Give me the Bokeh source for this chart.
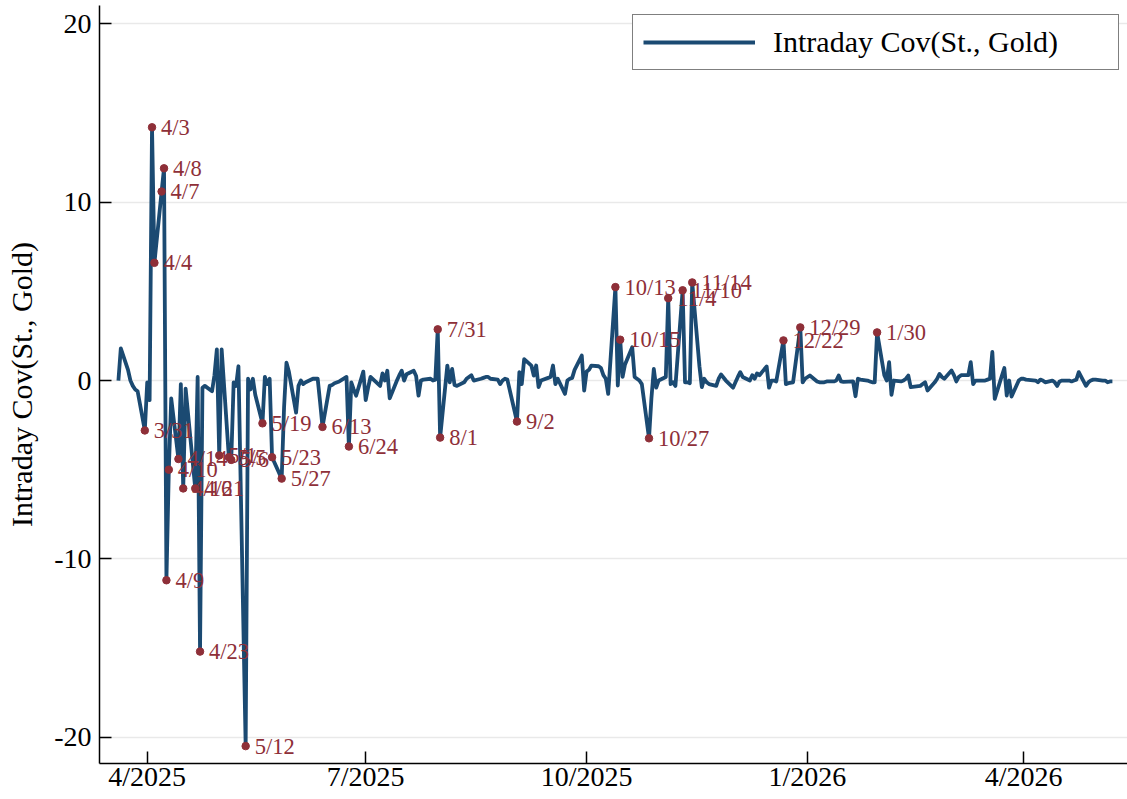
import pandas as pd
from bokeh.plotting import figure
from bokeh.models import FixedTicker, Legend, LegendItem, ColumnDataSource, Range1d
from bokeh.core.properties import value
from bokeh.embed import file_html
from bokeh.resources import INLINE

# ---------------- data ----------------
holidays = ["2025-04-18", "2025-05-26", "2025-06-19", "2025-07-04", "2025-09-01",
            "2025-11-27", "2025-12-25", "2026-01-01", "2026-01-19", "2026-02-16",
            "2026-04-03"]

mar25 = [0.0, 1.8, 0.6, 0.0, -0.3, -0.5, -0.6, -2.8]
apr25 = [-0.1, -1.1, 14.2, 6.6, 10.6, 11.9, -11.2, -5.0, -1.0, -4.4, -0.2, -6.05, -0.45,
         -6.05, 0.2, -15.2, -0.4, -0.3, -0.6, 0.3, 1.75]
may25 = [-4.2, 1.75, -4.3, -4.45, -0.1, -0.3, 0.8, -20.5, 0.1, -0.5, 0.1, -0.8, -2.4, 0.2,
         -0.2, 0.1, -4.3, -5.5, -1.5, 1.0, 0.5]
jun25 = [-1.8, -0.3, 0.0, -0.2, -0.1, 0.1, 0.1, 0.1, -1.2, -2.6, -0.3, -0.25, -0.15, -0.05,
         0.2, -3.7, -0.1, -0.5, -0.85, 0.5]
jul25 = [-1.1, -0.4, 0.2, -0.3, 0.4, 0.0, 0.55, -1.0, 0.0, 0.3, 0.55, 0.0, 0.35, 0.55, 0.25,
         -0.85, 0.0, 0.05, 0.1, 0.0, 0.05, 2.87]
aug25 = [-3.2, 0.84, -0.1, 0.65, -0.25, -0.3, -0.1, 0.1, 0.2, 0.3, 0.0, 0.1, 0.15, 0.2, 0.2,
         0.1, 0.05, -0.2, 0.0, 0.1, 0.05]
sep25 = [-2.3, 0.47, -0.2, 1.2, 0.84, 0.28, 0.84, -0.37, 0.0, 0.15, 0.2, 0.84, -0.2, 0.1,
         -0.75, 0.0, 0.1, 0.15, 0.6, 1.4, -0.56]
oct25 = [0.5, 0.6, 0.84, 0.8, 0.7, 0.3, 0.1, -0.75, 5.24, -0.28, 2.29, 0.2, 0.9, 1.87, 0.2,
         0.1, 0.0, -0.2, -3.24, -1.0, 0.65, -0.4, 0.0]
nov25 = [0.2, 4.62, -0.2, -0.1, -0.3, 5.06, -0.1, -0.1, -0.15, 5.5, 0.8, -0.37, 0.1, -0.1,
         -0.2, -0.3, 0.1, 0.34, 0.0]
dec25 = [-0.4, -0.1, 0.2, 0.47, 0.2, 0.0, 0.3, 0.1, 0.4, 0.3, 0.79, -0.4, 0.0, 0.0, -0.05,
         2.25, -0.2, -0.15, -0.1, 2.98, -0.1, 0.1]
jan26 = [0.28, -0.05, -0.1, -0.1, -0.1, -0.05, -0.05, 0.0, 0.28, -0.05, -0.08, -0.05, -0.88,
         0.1, 0.05, 0.0, -0.05, -0.1, -0.1, 2.7]
feb26 = [0.3, 0.0, 1.03, -0.8, 0.0, -0.05, 0.0, 0.1, 0.28, -0.37, -0.3, -0.2, -0.1, -0.56,
         -0.1, 0.1, 0.37, 0.2, 0.1]
mar26 = [0.56, 0.3, -0.05, 0.2, 0.3, 0.3, 1.03, -0.2, 0.0, 0.0, 0.0, 0.05, 0.1, 1.6, -1.03,
         0.28, 0.7, -0.84, 0.0, -0.9, 0.0, 0.1]
apr26 = [0.1, 0.05, 0.0, -0.1, 0.05, 0.0, -0.1, 0.0, -0.1, -0.3, -0.05, 0.0, 0.0, -0.05, 0.0,
         0.05, 0.47, -0.3, -0.1, 0.0, 0.05]
may26 = [0.05, 0.0, 0.0, -0.1, -0.05, -0.05]

months = [("2025-03-20", "2025-03-31", mar25), ("2025-04-01", "2025-04-30", apr25),
          ("2025-05-01", "2025-05-31", may25), ("2025-06-01", "2025-06-30", jun25),
          ("2025-07-01", "2025-07-31", jul25), ("2025-08-01", "2025-08-31", aug25),
          ("2025-09-01", "2025-09-30", sep25), ("2025-10-01", "2025-10-31", oct25),
          ("2025-11-01", "2025-11-30", nov25), ("2025-12-01", "2025-12-31", dec25),
          ("2026-01-01", "2026-01-31", jan26), ("2026-02-01", "2026-02-28", feb26),
          ("2026-03-01", "2026-03-31", mar26), ("2026-04-01", "2026-04-30", apr26),
          ("2026-05-01", "2026-05-08", may26)]

tick_dates = ["2025-04-01", "2025-07-01", "2025-10-01", "2026-01-01", "2026-04-01"]
tick_labels = ["4/2025", "7/2025", "10/2025", "1/2026", "4/2026"]
y_ticks = [-20, -10, 0, 10, 20]
y_tick_labels = ["-20", "-10", "0", "10", "20"]
label_threshold = 2.0
series_name = "Intraday Cov(St., Gold)"

dates, vals = [], []
for start, end, v in months:
    d = pd.bdate_range(start, end, freq="C", holidays=holidays)
    assert len(d) == len(v), (start, len(d), len(v))
    dates.extend(list(d))
    vals.extend(v)

src = ColumnDataSource(dict(x=dates, y=vals))
lab_x = [d for d, v in zip(dates, vals) if abs(v) >= label_threshold]
lab_y = [v for v in vals if abs(v) >= label_threshold]
lab_t = [f"{d.month}/{d.day}" for d in lab_x]
lsrc = ColumnDataSource(dict(x=lab_x, y=lab_y, t=lab_t))

# ---------------- figure ----------------
BLUE = "#1b4a72"
RED = "#8e2f38"
FONT = "Liberation Serif"

p = figure(width=1127, height=799, x_axis_type="datetime", output_backend="svg",
           toolbar_location=None, min_border_left=99, min_border_right=0,
           min_border_top=5, min_border_bottom=36,
           x_range=Range1d(pd.Timestamp("2025-03-12 03:00"), pd.Timestamp("2026-05-14 07:00")),
           y_range=Range1d(-21.475, 21.03))
p.outline_line_color = None
p.background_fill_color = "white"
p.border_fill_color = "white"

ln = p.line("x", "y", source=src, line_color=BLUE, line_width=3.8, line_join="round")
p.scatter("x", "y", source=lsrc, size=7.5, fill_color=RED, line_color=RED)
p.text("x", "y", text="t", source=lsrc, x_offset=9, text_baseline="middle",
       text_align="left", text_color=RED, text_font=value(FONT), text_font_size="22.5px")

# axes
xt = [int(pd.Timestamp(t).value // 10**6) for t in tick_dates]
p.xaxis.ticker = FixedTicker(ticks=xt)
p.xaxis.major_label_overrides = {k: l for k, l in zip(xt, tick_labels)}
p.yaxis.ticker = FixedTicker(ticks=y_ticks)
p.yaxis.major_label_overrides = {k: l for k, l in zip(y_ticks, y_tick_labels)}
for ax in (p.xaxis, p.yaxis):
    ax.major_tick_in = 12
    ax.major_tick_out = 0
    ax.minor_tick_line_color = None
    ax.axis_line_color = "black"
    ax.axis_line_width = 1.5
    ax.major_tick_line_color = "black"
    ax.major_tick_line_width = 1.5
    ax.major_label_text_font = FONT
    ax.major_label_text_font_size = "28px"
    ax.major_label_text_color = "black"
p.xaxis.major_label_standoff = -3
p.yaxis.major_label_standoff = 8
p.yaxis.axis_label = series_name
p.yaxis.axis_label_text_font = FONT
p.yaxis.axis_label_text_font_size = "30px"
p.yaxis.axis_label_text_font_style = "normal"
p.yaxis.axis_label_text_color = "black"
p.yaxis.axis_label_standoff = 13

p.xgrid.visible = False
p.ygrid.ticker = FixedTicker(ticks=y_ticks)
p.ygrid.grid_line_color = "#e9e9e9"
p.ygrid.grid_line_width = 1.5

legend = Legend(items=[LegendItem(label=series_name, renderers=[ln])],
                location=(533, 693), margin=0, padding=10, spacing=0,
                glyph_width=112, glyph_height=32, label_height=32, label_width=335,
                label_standoff=18, label_text_font=FONT, label_text_font_size="30px",
                label_text_color="black", border_line_color="black", border_line_width=1.6,
                background_fill_color="white", background_fill_alpha=1.0)
p.add_layout(legend)

open("out.html", "w").write(file_html(p, INLINE))
